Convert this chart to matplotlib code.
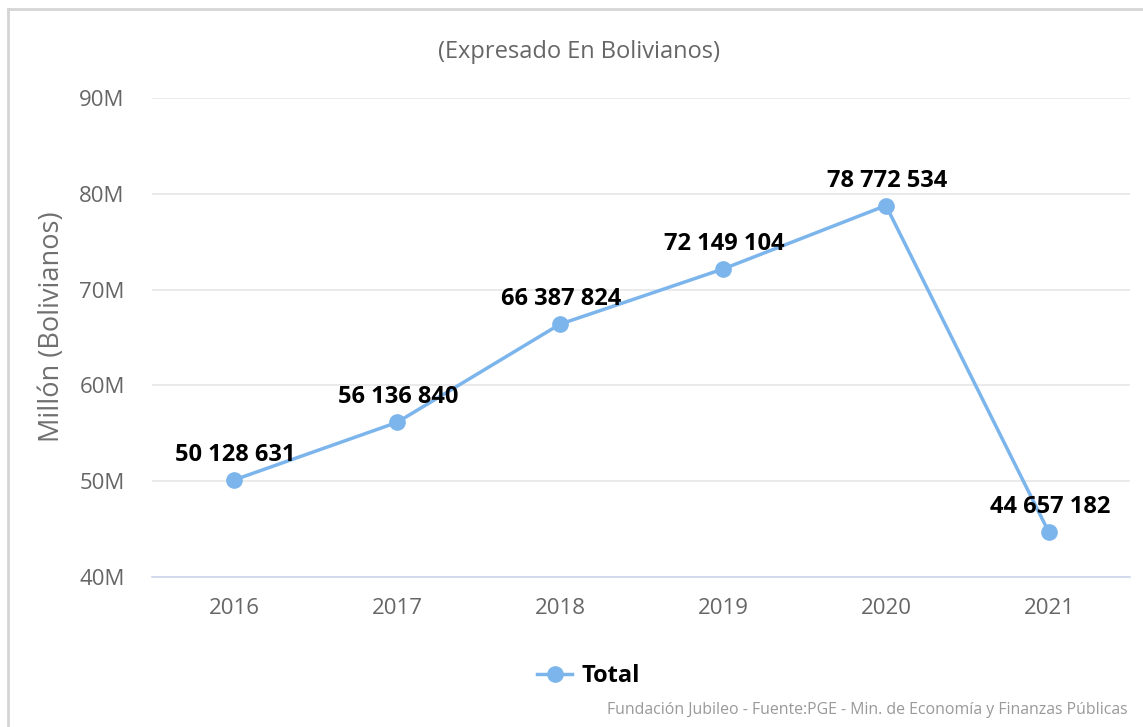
import matplotlib.pyplot as plt
from matplotlib.lines import Line2D
import matplotlib.ticker as ticker

plt.rcParams['font.family'] = ['Open Sans', 'DejaVu Sans']

# Data
years = ['2016', '2017', '2018', '2019', '2020', '2021']
totals = [50128631, 56136840, 66387824, 72149104, 78772534, 44657182]
y_ticks = [40e6, 50e6, 60e6, 70e6, 80e6, 90e6]

line_color = '#7cb5ec'

fig = plt.figure(figsize=(11.43, 7.27), dpi=100)
ax = fig.add_axes([0.1334, 0.2063, 0.8556, 0.6589])

x = list(range(len(years)))
ax.plot(x, totals, color=line_color, linewidth=2.5, marker='o',
        markersize=11, zorder=3)

# Data labels
for i, v in enumerate(totals):
    label = f'{v:,}'.replace(',', ' ')
    ax.annotate(label, (i, v), xytext=(1, 18), textcoords='offset points',
                ha='center', va='center', fontsize=17, fontweight='bold',
                color='black', zorder=4)

ax.set_xlim(-0.5, len(years) - 0.5)
ax.set_ylim(40e6, 90e6)
ax.set_xticks(x)
ax.set_xticklabels(years)
ax.set_yticks(y_ticks)
ax.yaxis.set_major_formatter(ticker.FuncFormatter(lambda v, p: f'{v / 1e6:.0f}M'))

ax.grid(axis='y', color='#e6e6e6', linewidth=1.2)
ax.set_axisbelow(True)
for side in ['top', 'right', 'left']:
    ax.spines[side].set_visible(False)
ax.spines['bottom'].set_color('#ccd6eb')
ax.spines['bottom'].set_linewidth(1.2)
ax.tick_params(axis='both', length=0, labelsize=16, colors='#666666')
ax.tick_params(axis='x', pad=15)
ax.tick_params(axis='y', pad=20)

# Y axis title
fig.text(52 / 1143, 1 - 327 / 727, 'Millón (Bolivianos)', rotation=90,
         ha='center', va='center', fontsize=19.5, color='#707070')

# Subtitle
fig.text(579 / 1143, 1 - 52 / 727, '(Expresado En Bolivianos)', ha='center', va='center',
         fontsize=17, color='#666666')

# Legend
handle = Line2D([], [], color=line_color, linewidth=2.5, marker='o', markersize=11)
fig.legend([handle], ['Total'], loc='center', bbox_to_anchor=(0.515, 1 - 676 / 727),
           frameon=False, prop={'weight': 'bold', 'size': 17}, handlelength=1.5,
           handletextpad=0.4)

# Credits
fig.text(1128 / 1143, 1 - 710 / 727,
         'Fundación Jubileo - Fuente:PGE - Min. de Economía y Finanzas Públicas',
         ha='right', va='center', fontsize=11.4, color='#999999')

# Outer border (top and left visible)
fig.add_artist(Line2D([8 / 1143, 8 / 1143], [0, 1 - 9 / 727], color='#d5d5d5',
                      linewidth=2, transform=fig.transFigure))
fig.add_artist(Line2D([8 / 1143, 1], [1 - 9 / 727, 1 - 9 / 727], color='#d5d5d5',
                      linewidth=2, transform=fig.transFigure))

fig.savefig('out.png', dpi=100)
